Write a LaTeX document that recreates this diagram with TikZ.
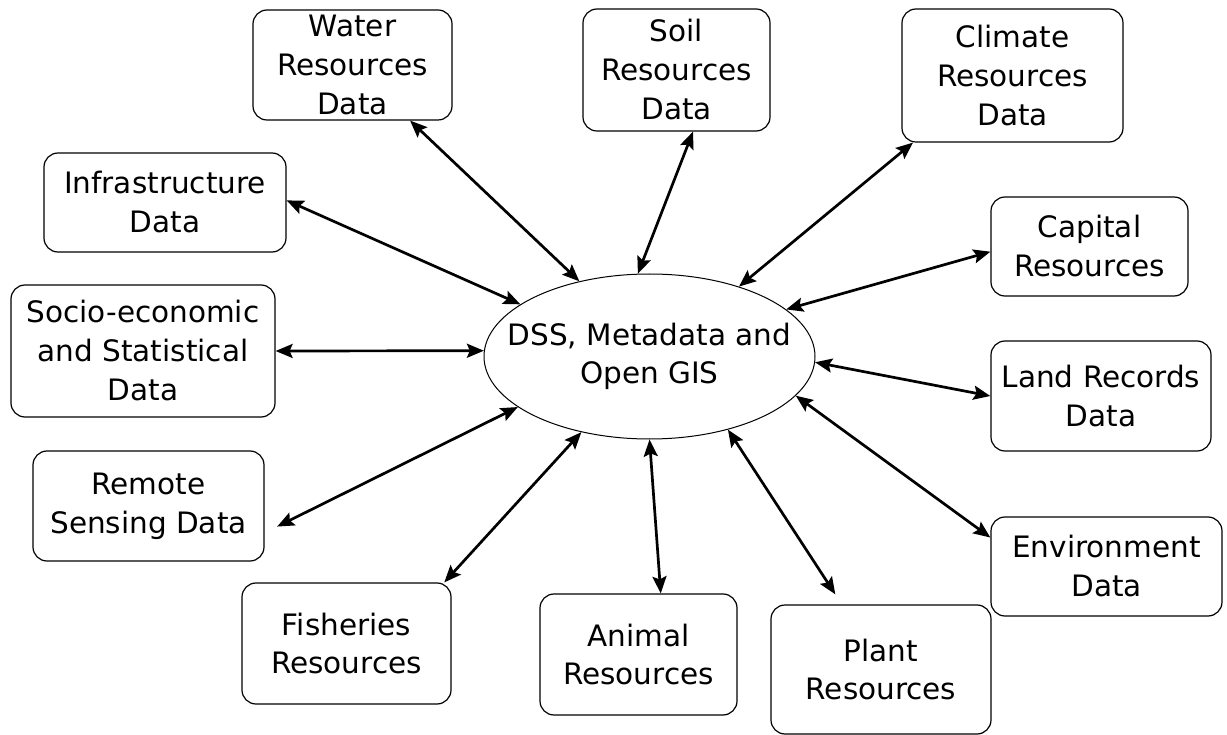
\documentclass[tikz,border=0pt]{standalone}
\usepackage{fontspec}
\setmainfont{DejaVu Sans}
\usetikzlibrary{shapes.geometric,arrows.meta}
\newcommand{\boxfont}{\fontsize{29.5}{39}\selectfont}
\begin{document}
\begin{tikzpicture}[x=1pt,y=-1pt,
  databox/.style={draw, line width=1.2pt, rounded corners=14pt, align=center,
    inner sep=0pt, font=\boxfont},
  hub/.style={draw, ellipse, line width=1pt, inner sep=0pt,
    minimum width=331pt, minimum height=165pt, font=\boxfont},
  link/.style={line width=2.7pt,
    {Stealth[length=17pt,width=14pt,inset=3pt]}-{Stealth[length=17pt,width=14pt,inset=3pt]}}
]
\useasboundingbox (0,0) rectangle (1227,735);

\node[hub] (dss) at (649.5,356.5) {\makebox[0pt]{\begin{tabular}{@{}c@{}}DSS, Metadata and\\[-1pt]Open GIS\end{tabular}}};

\node[databox, minimum width=199pt, minimum height=110pt] (water) at (352.5,65) {Water\\Resources\\Data};
\node[databox, minimum width=242pt, minimum height=99pt] (infra) at (165,202.5) {Infrastructure\\Data};
\node[databox, minimum width=264pt, minimum height=132pt] (socio) at (143,351) {Socio-economic\\and Statistical\\Data};
\node[databox, minimum width=231pt, minimum height=110pt] (remote) at (148.5,506) {Remote\\Sensing Data};
\node[databox, minimum width=209pt, minimum height=121pt] (fish) at (346.5,643.5) {Fisheries\\Resources};
\node[databox, minimum width=197pt, minimum height=121pt] (animal) at (638.5,654.5) {Animal\\Resources};
\node[databox, minimum width=220pt, minimum height=129pt] (plant) at (881,669.5) {Plant\\Resources};
\node[databox, minimum width=231pt, minimum height=99pt] (env) at (1106.5,566.5) {Environment\\Data};
\node[databox, minimum width=220pt, minimum height=110pt] (land) at (1101,396) {Land Records\\Data};
\node[databox, minimum width=197pt, minimum height=99pt] (capital) at (1089.5,246.5) {Capital\\Resources};
\node[databox, minimum width=221pt, minimum height=133pt] (climate) at (1012.5,75.5) {Climate\\Resources\\Data};
\node[databox, minimum width=187pt, minimum height=122pt] (soil) at (676.5,70) {Soil\\Resources\\Data};

\draw[link] (water.-44.8) -- (dss.133);
\draw[link] (soil.-75.3) -- (dss.98);
\draw[link] (climate.-146.3) -- (dss.38.9);
\draw[link] (capital.183.2) -- (dss.19);
\draw[link] (land.180) -- (dss.-2.2);
\draw[link] (env.166.1) -- (dss.-15.8);
\draw[link, shorten <=12pt] (plant.121) -- (dss.-43.1);
\draw[link] (animal.70.7) -- (dss.-90);
\draw[link] (fish.32.9) -- (dss.-132.1);
\draw[link, shorten <=14pt] (remote.-13.4) -- (dss.-159.1);
\draw[link] (socio.east) -- (dss.178.4);
\draw[link] (infra.1.2) -- (dss.158.8);
\end{tikzpicture}
\end{document}
